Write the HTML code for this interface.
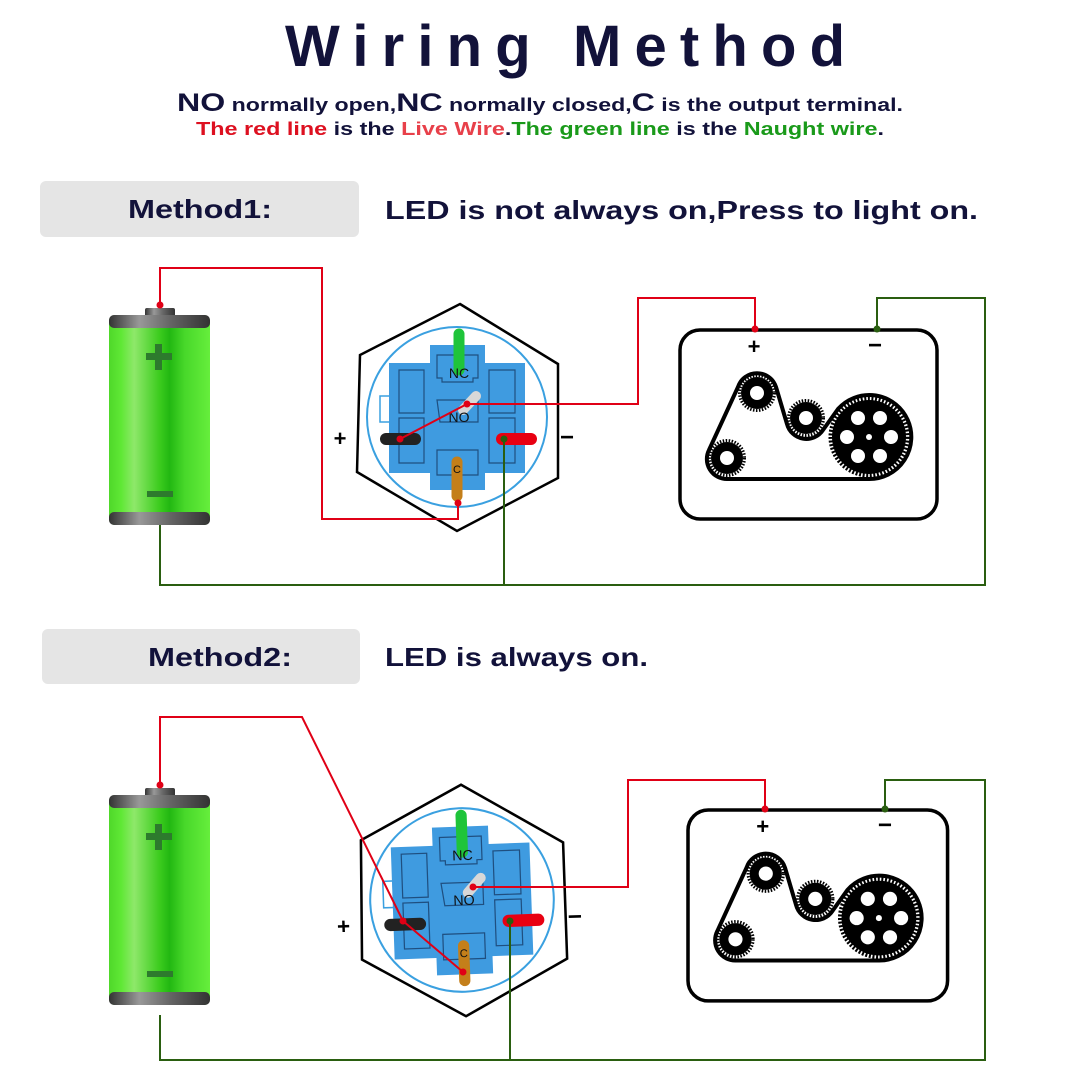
<!DOCTYPE html>
<html><head><meta charset="utf-8"><style>html,body{margin:0;padding:0;background:#fff}svg{display:block}</style></head>
<body>
<svg width="1080" height="1080" viewBox="0 0 1080 1080" xmlns="http://www.w3.org/2000/svg" font-family="'Liberation Sans', sans-serif">
<defs>
<linearGradient id="bg" x1="0" x2="1" y1="0" y2="0">
<stop offset="0" stop-color="#4fd82a"/><stop offset="0.12" stop-color="#5fe835"/><stop offset="0.25" stop-color="#8ee86a"/><stop offset="0.5" stop-color="#3ccc1e"/><stop offset="0.6" stop-color="#22b812"/><stop offset="0.75" stop-color="#48d82a"/><stop offset="1" stop-color="#66ee3c"/>
</linearGradient>
<linearGradient id="cap" x1="0" x2="1" y1="0" y2="0">
<stop offset="0" stop-color="#333"/><stop offset="0.3" stop-color="#999"/><stop offset="0.6" stop-color="#666"/><stop offset="1" stop-color="#333"/>
</linearGradient>
<g id="battery">
<rect x="145" y="308" width="30" height="9" rx="2" fill="url(#cap)"/>
<rect x="109" y="315" width="101" height="210" rx="6" fill="url(#bg)"/>
<rect x="109" y="315" width="101" height="13" rx="5" fill="url(#cap)"/>
<rect x="109" y="512" width="101" height="13" rx="5" fill="url(#cap)"/>
<rect x="146" y="353" width="26" height="7" fill="#2d7a2d"/>
<rect x="155" y="344" width="7" height="26" fill="#2d7a2d"/>
<rect x="147" y="491" width="26" height="6" fill="#2d7a2d"/>
</g>
<g id="sw">
<polygon points="460,304 558,364 558,478 457,531 357,472 360,355" fill="#fff" stroke="#000" stroke-width="2.5"/>
<circle cx="457" cy="417" r="90" fill="#fff" stroke="#3aa0e0" stroke-width="2"/>
<rect x="380" y="396" width="10" height="26" fill="none" stroke="#3aa0e0" stroke-width="1.5"/>
<path d="M430,345 H485 V363 H525 V473 H485 V490 H430 V473 H389 V363 H430 Z" fill="#3f9be0"/>
<g fill="none" stroke="#1f4f80" stroke-width="1.2">
<path d="M437,355 H478 V378 H473 V382 H442 V378 H437 Z"/>
<path d="M437,400 H478 V422 H440 Z"/>
<path d="M437,450 H478 V475 H437 Z"/>
<path d="M399,370 H424 V413 H399 Z"/>
<path d="M399,418 H424 V463 H399 Z"/>
<path d="M489,370 H515 V413 H489 Z"/>
<path d="M489,418 H515 V463 H489 Z"/>
</g>
<line x1="459" y1="334" x2="459" y2="370" stroke="#1fc43a" stroke-width="11" stroke-linecap="round"/>
<text x="459" y="378" font-size="14" text-anchor="middle" fill="#111">NC</text>
<line x1="463" y1="410" x2="476" y2="396" stroke="#d8d8d8" stroke-width="10" stroke-linecap="round"/>
<text x="459" y="422" font-size="14" text-anchor="middle" fill="#111">NO</text>
<line x1="386" y1="439" x2="415" y2="439" stroke="#222" stroke-width="12" stroke-linecap="round"/>
<line x1="502" y1="439" x2="531" y2="439" stroke="#e80012" stroke-width="12" stroke-linecap="round"/>
<line x1="457" y1="462" x2="457" y2="496" stroke="#c47f1a" stroke-width="11" stroke-linecap="round"/>
<text x="457" y="473" font-size="11" text-anchor="middle" fill="#111">C</text>
<text x="340" y="446" font-size="22" font-weight="bold" text-anchor="middle">+</text>
<text x="567" y="445" font-size="24" font-weight="bold" text-anchor="middle">−</text>
</g>
<g id="motor">
<rect x="0" y="0" width="257" height="189" rx="20" fill="#fff" stroke="#000" stroke-width="3.5"/>
<text x="74" y="24" font-size="22" font-weight="bold" text-anchor="middle">+</text>
<text x="195" y="23" font-size="24" font-weight="bold" text-anchor="middle">−</text>
<path d="M47,149 L189,149 A42,42 0 1 0 158,79 L143,100 A20,20 0 0 1 107,94 L96,57 A20,20 0 0 0 58,57 L29,120 A20,20 0 0 0 47,149 Z" fill="none" stroke="#000" stroke-width="4" stroke-linejoin="round"/>
<g fill="#000">
<circle cx="77" cy="63" r="16"/><circle cx="77" cy="63" r="17.5" fill="none" stroke="#000" stroke-width="3" stroke-dasharray="1.5 1.5"/>
<circle cx="126" cy="88" r="16"/><circle cx="126" cy="88" r="17.5" fill="none" stroke="#000" stroke-width="3" stroke-dasharray="1.5 1.5"/>
<circle cx="47" cy="128" r="16"/><circle cx="47" cy="128" r="17.5" fill="none" stroke="#000" stroke-width="3" stroke-dasharray="1.5 1.5"/>
<circle cx="189" cy="107" r="37"/><circle cx="189" cy="107" r="38.5" fill="none" stroke="#000" stroke-width="4" stroke-dasharray="2 1.6"/>
</g>
<g fill="#fff">
<circle cx="77" cy="63" r="7"/><circle cx="126" cy="88" r="7"/><circle cx="47" cy="128" r="7"/>
<circle cx="189" cy="107" r="3"/>
<circle cx="178" cy="88" r="7"/><circle cx="200" cy="88" r="7"/><circle cx="211" cy="107" r="7"/><circle cx="200" cy="126" r="7"/><circle cx="178" cy="126" r="7"/><circle cx="167" cy="107" r="7"/>
</g>
</g>
</defs>

<text x="565" y="66" font-size="58" font-weight="bold" fill="#12123a" text-anchor="middle" textLength="560" lengthAdjust="spacing">Wiring Method</text>
<text x="177" y="111" font-weight="bold" fill="#12123a" textLength="726" lengthAdjust="spacingAndGlyphs"><tspan font-size="25">NO</tspan><tspan font-size="18"> normally open,</tspan><tspan font-size="25">NC</tspan><tspan font-size="18"> normally closed,</tspan><tspan font-size="25">C</tspan><tspan font-size="18"> is the output terminal.</tspan></text>
<text x="196" y="135" font-size="18" font-weight="bold" textLength="688" lengthAdjust="spacingAndGlyphs"><tspan fill="#dd1020">The red line</tspan><tspan fill="#12123a"> is the </tspan><tspan fill="#e8404a">Live Wire</tspan><tspan fill="#12123a">.</tspan><tspan fill="#1a9a1a">The green line</tspan><tspan fill="#12123a"> is the </tspan><tspan fill="#1a9a1a">Naught wire</tspan><tspan fill="#12123a">.</tspan></text>

<rect x="40" y="181" width="319" height="56" rx="6" fill="#e5e5e5"/>
<text x="128" y="218" font-size="26" font-weight="bold" fill="#12123a" textLength="144" lengthAdjust="spacingAndGlyphs">Method1:</text>
<text x="385" y="219" font-size="26" font-weight="bold" fill="#12123a" textLength="593" lengthAdjust="spacingAndGlyphs">LED is not always on,Press to light on.</text>

<rect x="42" y="629" width="318" height="55" rx="6" fill="#e5e5e5"/>
<text x="148" y="666" font-size="26" font-weight="bold" fill="#12123a" textLength="144" lengthAdjust="spacingAndGlyphs">Method2:</text>
<text x="385" y="666" font-size="26" font-weight="bold" fill="#12123a" textLength="263" lengthAdjust="spacingAndGlyphs">LED is always on.</text>

<!-- Method 1 -->
<use href="#battery"/>
<use href="#sw"/>
<use href="#motor" x="680" y="330"/>
<g fill="none" stroke-width="2">
<polyline points="160,305 160,268 322,268 322,519 458,519 458,500" stroke="#e00016"/>
<polyline points="400,439 467,404 638,404 638,298 755,298 755,330" stroke="#e00016"/>
<polyline points="160,525 160,585 985,585 985,298 877,298 877,330" stroke="#2a5e10"/>
<polyline points="504,439 504,585" stroke="#2a5e10"/>
</g>
<g fill="#e00016"><circle cx="160" cy="305" r="3.5"/><circle cx="400" cy="439" r="3.5"/><circle cx="467" cy="404" r="3.5"/><circle cx="458" cy="503" r="3.5"/><circle cx="755" cy="329" r="3.5"/></g>
<g fill="#2a5e10"><circle cx="504" cy="439" r="3.5"/><circle cx="877" cy="329" r="3.5"/></g>

<!-- Method 2 -->
<use href="#battery" y="480"/>
<g transform="translate(462,900) rotate(-2) scale(1.02) translate(-457,-417)"><use href="#sw"/></g>
<use href="#motor" x="688" y="810" transform="translate(688,810) scale(1.01,1.01) translate(-688,-810)"/>
<g fill="none" stroke-width="2">
<polyline points="160,785 160,717 302,717 403,921 463,972" stroke="#e00016"/>
<polyline points="473,887 628,887 628,780 765,780 765,810" stroke="#e00016"/>
<polyline points="160,1015 160,1060 985,1060 985,780 885,780 885,810" stroke="#2a5e10"/>
<polyline points="510,921 510,1060" stroke="#2a5e10"/>
</g>
<g fill="#e00016"><circle cx="160" cy="785" r="3.5"/><circle cx="403" cy="921" r="3.5"/><circle cx="473" cy="887" r="3.5"/><circle cx="463" cy="972" r="3.5"/><circle cx="765" cy="809" r="3.5"/></g>
<g fill="#2a5e10"><circle cx="510" cy="921" r="3.5"/><circle cx="885" cy="809" r="3.5"/></g>
</svg>
</body></html>
